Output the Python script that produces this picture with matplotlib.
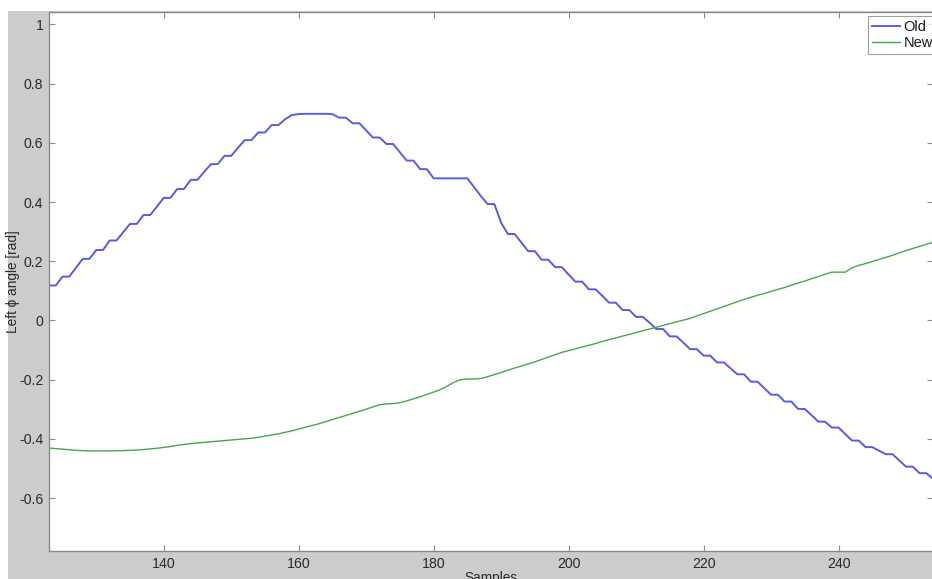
import numpy as np
import matplotlib
matplotlib.use("Agg")
import matplotlib.pyplot as plt
from matplotlib.patches import Rectangle

# Sample indices
samples = list(range(123, 255))

# Left phi angle [rad], old controller (quantised, staircase-like)
old_angle = [
    0.118, 0.118, 0.148, 0.148, 0.178, 0.208, 0.208, 0.238, 0.238, 0.270,
    0.270, 0.298, 0.326, 0.326, 0.356, 0.356, 0.385, 0.414, 0.414, 0.444,
    0.444, 0.475, 0.475, 0.502, 0.528, 0.528, 0.556, 0.556, 0.583, 0.609,
    0.609, 0.635, 0.635, 0.660, 0.660, 0.680, 0.694, 0.697, 0.698, 0.698,
    0.698, 0.698, 0.697, 0.685, 0.685, 0.666, 0.666, 0.642, 0.618, 0.618,
    0.596, 0.596, 0.568, 0.540, 0.540, 0.511, 0.511, 0.480, 0.480, 0.480,
    0.480, 0.480, 0.480, 0.450, 0.420, 0.393, 0.393, 0.330, 0.292, 0.292,
    0.263, 0.234, 0.234, 0.205, 0.205, 0.180, 0.180, 0.155, 0.131, 0.131,
    0.105, 0.105, 0.083, 0.060, 0.060, 0.035, 0.035, 0.012, 0.012, -0.008,
    -0.029, -0.029, -0.054, -0.054, -0.075, -0.097, -0.097, -0.119, -0.119, -0.142,
    -0.142, -0.162, -0.182, -0.182, -0.207, -0.207, -0.229, -0.251, -0.251, -0.274,
    -0.274, -0.299, -0.299, -0.320, -0.342, -0.342, -0.362, -0.362, -0.384, -0.406,
    -0.406, -0.428, -0.428, -0.440, -0.452, -0.452, -0.473, -0.494, -0.494, -0.516,
    -0.516, -0.535,
]

# Left phi angle [rad], new controller
new_angle = [
    -0.431, -0.433, -0.435, -0.437, -0.439, -0.440, -0.441, -0.441, -0.441, -0.441,
    -0.440, -0.440, -0.439, -0.438, -0.436, -0.434, -0.432, -0.429, -0.426, -0.422,
    -0.419, -0.416, -0.414, -0.412, -0.410, -0.408, -0.406, -0.404, -0.402, -0.400,
    -0.398, -0.395, -0.391, -0.387, -0.383, -0.378, -0.373, -0.367, -0.361, -0.355,
    -0.349, -0.342, -0.335, -0.328, -0.321, -0.314, -0.307, -0.300, -0.292, -0.285,
    -0.282, -0.281, -0.278, -0.272, -0.265, -0.258, -0.250, -0.242, -0.234, -0.222,
    -0.209, -0.200, -0.198, -0.198, -0.196, -0.190, -0.183, -0.176, -0.168, -0.161,
    -0.154, -0.147, -0.140, -0.132, -0.124, -0.116, -0.108, -0.102, -0.096, -0.090,
    -0.084, -0.078, -0.071, -0.065, -0.059, -0.053, -0.047, -0.041, -0.035, -0.029,
    -0.023, -0.017, -0.011, -0.005, 0.001, 0.007, 0.015, 0.023, 0.031, 0.039,
    0.047, 0.055, 0.063, 0.071, 0.078, 0.085, 0.091, 0.098, 0.105, 0.111,
    0.119, 0.126, 0.133, 0.141, 0.148, 0.156, 0.163, 0.163, 0.163, 0.178,
    0.186, 0.192, 0.199, 0.206, 0.213, 0.220, 0.228, 0.236, 0.243, 0.250,
    0.257, 0.265,
]

series_labels = ["Old", "New"]
x_ticks = [140, 160, 180, 200, 220, 240]
y_ticks = [-0.6, -0.4, -0.2, 0, 0.2, 0.4, 0.6, 0.8, 1]
y_tick_labels = ["-0.6", "-0.4", "-0.2", "0", "0.2", "0.4", "0.6", "0.8", "1"]

plt.rcParams["font.family"] = ["Liberation Sans", "DejaVu Sans"]

W, H = 932, 579
fig = plt.figure(figsize=(W / 100, H / 100), dpi=100, facecolor="white")

# grey figure panel behind the axes
fig.patches.append(Rectangle((8 / W, 0), 1 - 8 / W, 1 - 11 / H,
                             transform=fig.transFigure, facecolor="#cccccc",
                             edgecolor="none", zorder=-10))

ax = fig.add_axes([49 / W, 28 / H, (933 - 49) / W, (551 - 12) / H])
ax.set_zorder(1)
ax.set_facecolor("white")

ax.plot(samples, old_angle, color="#5a5ae6", lw=1.4, label=series_labels[0])
ax.plot(samples, new_angle, color="#4aa64a", lw=1.0, label=series_labels[1])

ax.set_xlim(123, 254)
ax.set_ylim(-0.779, 1.042)
ax.set_xticks(x_ticks)
ax.set_yticks(y_ticks)
ax.set_yticklabels(y_tick_labels)

spine_col = "#8a8a8a"
for s in ax.spines.values():
    s.set_color(spine_col)
    s.set_linewidth(1.0)
ax.tick_params(direction="in", length=4, width=0.8, color=spine_col,
               labelsize=10.2, labelcolor="#2a2a2a", top=True, right=True, pad=4)

ax.set_xlabel("Samples", fontsize=9.8, color="#2a2a2a")
ax.xaxis.set_label_coords(0.5, -(571 - 551) / (551 - 12), transform=ax.transAxes)
ax.xaxis.label.set_va("top")
ax.set_ylabel("Left \u03d5 angle [rad]", fontsize=9.8, color="#2a2a2a")
ax.yaxis.set_label_coords(-(49 - 13) / (933 - 49), 0.5, transform=ax.transAxes)
ax.yaxis.label.set_va("center")

leg = ax.legend(loc="upper left", bbox_to_anchor=(868 / W, 1 - 16 / H),
                bbox_transform=fig.transFigure, borderaxespad=0,
                fancybox=False, frameon=True, fontsize=10.5,
                handlelength=1.9, handletextpad=0.25, labelspacing=0.1,
                borderpad=0.3)
leg.get_frame().set_edgecolor("#8a8a8a")
leg.get_frame().set_linewidth(0.8)
for t in leg.get_texts():
    t.set_color("#1a1a1a")

fig.savefig("out.png", dpi=100, facecolor=fig.get_facecolor())
